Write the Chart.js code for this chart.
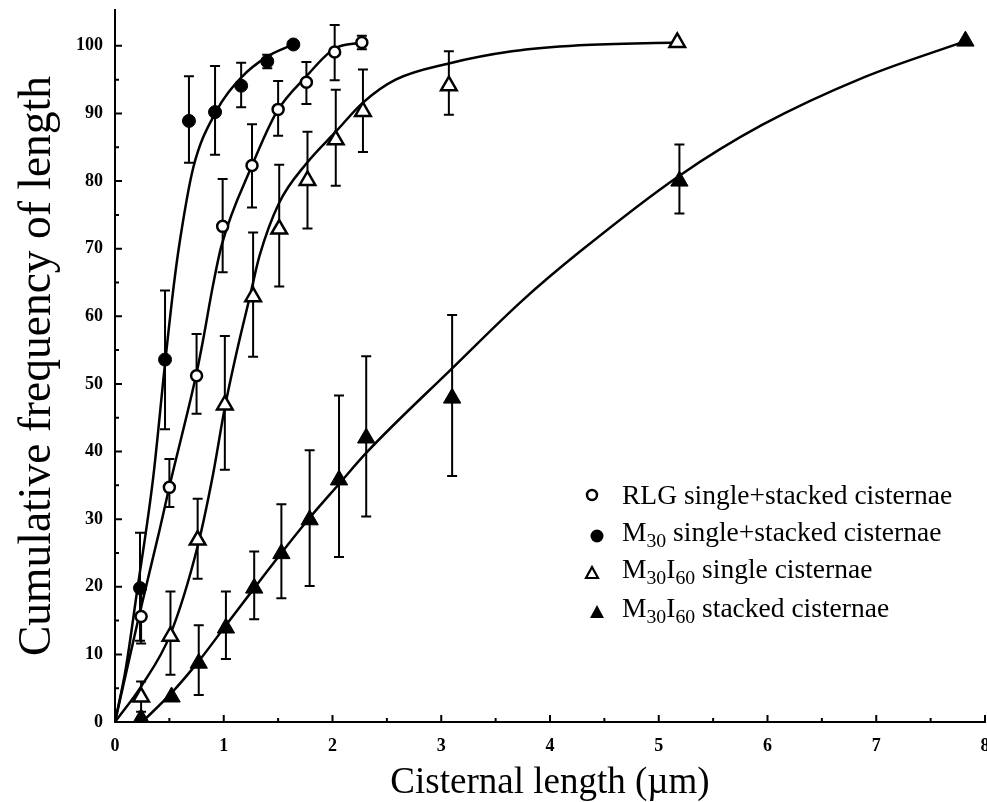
<!DOCTYPE html>
<html>
<head>
<meta charset="utf-8">
<script src="https://cdn.jsdelivr.net/npm/chart.js@4.4.1/dist/chart.umd.min.js"></script>
<style>
  html, body { margin: 0; padding: 0; background: #fff; }
  #wrap { position: relative; width: 987px; height: 802px; }
  #legend { position: absolute; left: 0; top: 0; font-family: "Liberation Serif", serif; font-size: 27.5px; color: #000; }
  .row { position: absolute; left: 622px; line-height: 27px; white-space: nowrap; }
  .row sub { font-size: 0.72em; position: relative; top: 0.3em; vertical-align: baseline; }
  .mk { position: absolute; }
</style>
</head>
<body>
<div id="wrap">
  <canvas id="chart" width="987" height="802"></canvas>
  <div id="legend">
    <svg class="mk" style="left:584px;top:487px" width="16" height="16"><circle cx="8" cy="8" r="5" fill="#fff" stroke="#000" stroke-width="2.5"/></svg>
    <div class="row" style="top:481px">RLG single+stacked cisternae</div>
    <svg class="mk" style="left:589px;top:528px" width="16" height="16"><circle cx="8" cy="8" r="6.5" fill="#000"/></svg>
    <div class="row" style="top:518px">M<sub>30</sub> single+stacked cisternae</div>
    <svg class="mk" style="left:584px;top:565px" width="16" height="16"><polygon points="8,2 14,13 2,13" fill="#fff" stroke="#000" stroke-width="2.2"/></svg>
    <div class="row" style="top:555px">M<sub>30</sub>I<sub>60</sub> single cisternae</div>
    <svg class="mk" style="left:589px;top:604px" width="16" height="16"><polygon points="8,1 15,14 1,14" fill="#000"/></svg>
    <div class="row" style="top:594px">M<sub>30</sub>I<sub>60</sub> stacked cisternae</div>
  </div>
</div>
<script>
// ====== Data ======
const xTicks = [0, 1, 2, 3, 4, 5, 6, 7, 8];
const xMinor = [0.5, 1.5, 2.5, 3.5, 4.5, 5.5, 6.5, 7.5];
const yTicks = [0, 10, 20, 30, 40, 50, 60, 70, 80, 90, 100];
const yMinor = [5, 15, 25, 35, 45, 55, 65, 75, 85, 95];

// RLG single+stacked cisternae (open circles)
const rlgX  = [0.24, 0.50, 0.75, 0.99, 1.26, 1.50, 1.76, 2.02, 2.27];
const rlgY  = [15.6, 34.7, 51.2, 73.3, 82.3, 90.6, 94.6, 99.1, 100.5];
const rlgHi = [19.5, 38.9, 57.4, 80.3, 88.4, 94.8, 97.6, 103.1, 101.5];
const rlgLo = [11.6, 31.8, 45.6, 66.5, 76.1, 86.7, 91.4, 94.9, 99.5];

// M30 single+stacked cisternae (filled circles)
const m30X  = [0.23, 0.46, 0.68, 0.92, 1.16, 1.40, 1.64];
const m30Y  = [19.8, 53.6, 88.9, 90.2, 94.1, 97.7, 100.2];
const m30Hi = [28.0, 63.8, 95.5, 97.0, 97.5, 98.7, 100.2];
const m30Lo = [12.0, 43.3, 82.7, 83.9, 90.9, 96.7, 100.2];

// M30I60 single cisternae (open triangles)
const sglX  = [0.24, 0.51, 0.76, 1.01, 1.27, 1.51, 1.77, 2.03, 2.28, 3.07, 5.17];
const sglY  = [3.7, 12.7, 26.9, 46.9, 62.9, 72.9, 80.1, 86.1, 90.3, 94.1, 100.5];
const sglHi = [6.0, 19.3, 33.0, 57.1, 72.4, 82.4, 87.3, 93.5, 96.5, 99.2, 100.5];
const sglLo = [1.5, 7.0, 21.2, 37.3, 54.0, 64.4, 73.0, 79.3, 84.3, 89.8, 100.5];

// M30I60 stacked cisternae (filled triangles)
const stkX  = [0.24, 0.52, 0.77, 1.02, 1.28, 1.53, 1.79, 2.06, 2.31, 3.10, 5.19, 7.82];
const stkY  = [0.5, 3.7, 8.7, 13.9, 19.8, 24.9, 29.9, 35.8, 42.0, 47.9, 80.0, 100.7];
const stkHi = [0.5, 3.7, 14.3, 19.3, 25.2, 32.2, 40.2, 48.3, 54.1, 60.2, 85.4, 100.7];
const stkLo = [0.5, 3.7, 4.0, 9.3, 15.2, 18.3, 20.1, 24.4, 30.4, 36.4, 75.2, 100.7];

// fitted curves
const m30FitX = [0, 0.10, 0.20, 0.35, 0.46, 0.54, 0.60, 0.72, 0.92, 1.16, 1.40, 1.64];
const m30FitY = [0, 8, 19, 36, 53, 64.5, 71.5, 82, 90, 95.3, 98.4, 100.2];
const rlgFitX = [0, 0.22, 0.41, 0.50, 0.75, 0.81, 0.90, 0.98, 1.26, 1.49, 1.76, 2.02, 2.27];
const rlgFitY = [0, 15.6, 28.4, 34.8, 51.6, 56.5, 64.5, 70.5, 82.3, 90.3, 95.5, 99.6, 100.5];
const sglFitX = [0, 0.25, 0.51, 0.76, 0.90, 1.01, 1.13, 1.24, 1.33, 1.51, 1.76, 2.03, 2.28, 2.58, 3.07, 3.65, 4.27, 5.17];
const sglFitY = [0, 5.5, 13, 26, 36.5, 46.5, 55.5, 62.9, 69, 76.8, 82.6, 87.3, 91.6, 95.0, 97.4, 99.2, 100.1, 100.5];
const stkFitX = [0.25, 0.52, 0.77, 1.02, 1.28, 1.53, 1.79, 2.06, 2.31, 3.10, 3.75, 4.27, 5.19, 5.95, 6.88, 7.82];
const stkFitY = [0, 4.3, 9, 14.3, 19.8, 25, 30.2, 35.2, 39.8, 52.3, 62.4, 69.5, 80.8, 88.3, 95.3, 100.7];

const pts = (xs, ys) => xs.map((x, i) => ({ x, y: ys[i] }));

// ====== Plugins ======
const errorBars = {
  id: "errorBars",
  beforeDatasetsDraw(chart) {
    const { ctx, scales: { x, y } } = chart;
    const sets = [
      [rlgX, rlgHi, rlgLo],
      [m30X, m30Hi, m30Lo],
      [sglX, sglHi, sglLo],
      [stkX, stkHi, stkLo],
    ];
    ctx.save();
    ctx.strokeStyle = "#000";
    ctx.lineWidth = 2;
    sets.forEach(([xs, his, los]) => {
      xs.forEach((v, i) => {
        if (his[i] - los[i] < 0.5) return;
        const px = x.getPixelForValue(v);
        const top = y.getPixelForValue(his[i]);
        const bot = y.getPixelForValue(los[i]);
        ctx.beginPath();
        ctx.moveTo(px, top);
        ctx.lineTo(px, bot);
        ctx.moveTo(px - 5, top);
        ctx.lineTo(px + 5, top);
        ctx.moveTo(px - 5, bot);
        ctx.lineTo(px + 5, bot);
        ctx.stroke();
      });
    });
    ctx.restore();
  },
};

// tick marks pointing into the plot
const innerTicks = {
  id: "innerTicks",
  afterDraw(chart) {
    const { ctx, scales: { x, y } } = chart;
    const x0 = x.getPixelForValue(0);
    const y0 = y.getPixelForValue(0);
    ctx.save();
    ctx.strokeStyle = "#000";
    ctx.lineWidth = 2;
    ctx.beginPath();
    yTicks.forEach(v => { const p = y.getPixelForValue(v); ctx.moveTo(x0, p); ctx.lineTo(x0 + 7, p); });
    yMinor.forEach(v => { const p = y.getPixelForValue(v); ctx.moveTo(x0, p); ctx.lineTo(x0 + 4, p); });
    xTicks.forEach(v => { const p = x.getPixelForValue(v); ctx.moveTo(p, y0); ctx.lineTo(p, y0 - 7); });
    xMinor.forEach(v => { const p = x.getPixelForValue(v); ctx.moveTo(p, y0); ctx.lineTo(p, y0 - 4); });
    ctx.stroke();
    ctx.restore();
  },
};

// ====== Chart ======
const marker = (data, style, radius, fill) => ({
  data,
  showLine: false,
  pointStyle: style,
  pointRadius: radius,
  pointBorderWidth: fill ? 1 : 2.5,
  pointBackgroundColor: fill ? "#000" : "#fff",
  pointBorderColor: "#000",
});

const fitLine = data => ({
  data,
  showLine: true,
  pointRadius: 0,
  borderColor: "#000",
  borderWidth: 2.5,
  cubicInterpolationMode: "monotone",
});

const tickFont = { family: "Liberation Serif", size: 18, weight: "bold" };

new Chart(document.getElementById("chart"), {
  type: "scatter",
  data: {
    datasets: [
      marker(pts(rlgX, rlgY), "circle", 5.5, false),
      marker(pts(m30X, m30Y), "circle", 6.5, true),
      marker(pts(sglX, sglY), "triangle", 9, false),
      marker(pts(stkX, stkY), "triangle", 10, true),
      fitLine(pts(m30FitX, m30FitY)),
      fitLine(pts(rlgFitX, rlgFitY)),
      fitLine(pts(sglFitX, sglFitY)),
      fitLine(pts(stkFitX, stkFitY)),
    ],
  },
  options: {
    responsive: false,
    animation: false,
    layout: { autoPadding: false, padding: { top: 10, right: 2, left: 0, bottom: 0 } },
    plugins: { legend: { display: false }, tooltip: { enabled: false } },
    scales: {
      x: {
        type: "linear",
        min: 0,
        max: 8,
        afterBuildTicks: s => { s.ticks = xTicks.map(value => ({ value })); },
        afterFit: s => { s.height = 80; s.paddingLeft = 0; s.paddingRight = 0; },
        grid: { display: false, drawTicks: false },
        border: { display: true, color: "#000", width: 2 },
        ticks: { color: "#000", font: tickFont, padding: 14, maxRotation: 0 },
        title: {
          display: true,
          text: "Cisternal length (µm)",
          color: "#000",
          font: { family: "Liberation Serif", size: 37, lineHeight: 1 },
          padding: { top: 0, bottom: 0 },
        },
      },
      y: {
        type: "linear",
        min: 0,
        max: 105.3,
        afterBuildTicks: s => { s.ticks = yTicks.map(value => ({ value })); },
        afterFit: s => { s.width = 115; s.paddingTop = 0; s.paddingBottom = 0; },
        grid: { display: false, drawTicks: false },
        border: { display: true, color: "#000", width: 2 },
        ticks: { color: "#000", font: tickFont, padding: 12 },
        title: {
          display: true,
          text: "Cumulative frequency of length",
          color: "#000",
          font: { family: "Liberation Serif", size: 45.5, lineHeight: 1 },
          padding: { top: 15, bottom: 0 },
        },
      },
    },
  },
  plugins: [errorBars, innerTicks],
});
</script>
</body>
</html>
